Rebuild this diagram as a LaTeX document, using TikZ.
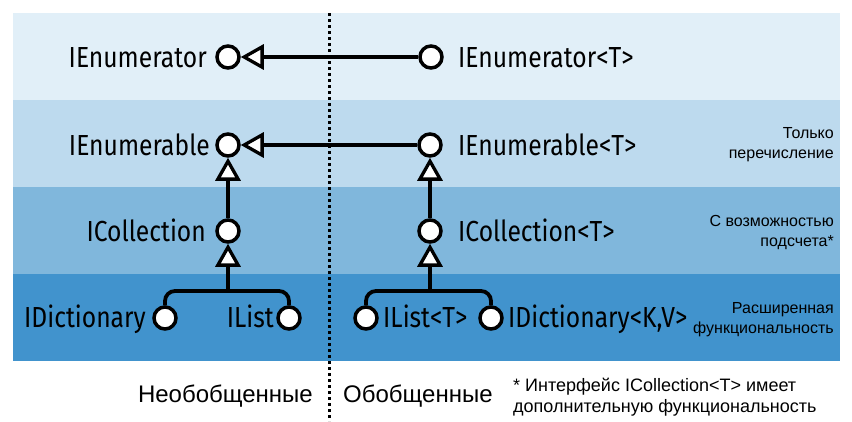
\documentclass[tikz,border=0pt]{standalone}
\usepackage{fontspec}
\setmainfont{Liberation Sans}
\newfontfamily\codefont[FakeStretch=0.85]{Fira Sans}
\usetikzlibrary{arrows.meta}
\definecolor{bandA}{HTML}{E1EFF8}
\definecolor{bandB}{HTML}{BDDAEE}
\definecolor{bandC}{HTML}{80B7DC}
\definecolor{bandD}{HTML}{4193CD}
\tikzset{
  port/.style={circle,draw=black,fill=white,line width=3.5pt,minimum size=22pt,inner sep=0pt},
  code/.style={font=\codefont\fontsize{29}{32}\selectfont,inner sep=0pt},
  note/.style={font=\fontsize{16}{20}\selectfont,inner sep=0pt,align=right,anchor=east},
  caption/.style={font=\fontsize{24}{28}\selectfont,inner sep=0pt},
  conn/.style={line width=3.8pt,draw=black},
  inh/.style={conn,-{Triangle[length=23pt,width=25pt,fill=white,line width=3.3pt]}},
}
\begin{document}
\begin{tikzpicture}[x=1pt,y=-1pt]
\useasboundingbox (0,0) rectangle (852,421);
% bands
\fill[bandA] (13,13) rectangle (840,100);
\fill[bandB] (13,100) rectangle (840,187);
\fill[bandC] (13,187) rectangle (840,274);
\fill[bandD] (13,274) rectangle (840,361);
% divider
\draw[line width=3pt,dash pattern=on 3pt off 3pt] (329,13) -- (329,421);
% ports
\node[port] (enL) at (228,57) {};
\node[port] (enR) at (431,57) {};
\node[port] (ebL) at (228,145) {};
\node[port] (ebR) at (430,145) {};
\node[port] (coL) at (228,231) {};
\node[port] (coR) at (430,231) {};
\node[port] (diL) at (165,318) {};
\node[port] (liL) at (289,318) {};
\node[port] (liR) at (366,318) {};
\node[port] (diR) at (491,318) {};
\coordinate (brL) at (228,291);
\coordinate (brR) at (430,291);
% labels
\node[code,anchor=base east] (tEnL) at (207,67) {IEnumerator};
\node[code,anchor=base west] (tEnR) at (458,67) {IEnumerator<T>};
\node[code,anchor=base east] (tEbL) at (210,155) {IEnumerable};
\node[code,anchor=base west] (tEbR) at (458,155) {IEnumerable<T>};
\node[code,anchor=base east] (tCoL) at (206,241) {ICollection};
\node[code,anchor=base west] (tCoR) at (458,241) {ICollection<T>};
\node[code,anchor=base east] (tDiL) at (146,327) {IDictionary};
\node[code,anchor=base east] (tLiL) at (274,327) {IList};
\node[code,anchor=base west] (tLiR) at (383,327) {IList<T>};
\node[code,anchor=base west] (tDiR) at (508,327) {IDictionary<K,V>};
% notes
\node[note] (n1) at (834,145) {Только\\перечисление};
\node[note] (n2) at (834,233) {С возможностью\\подсчета*};
\node[note] (n3) at (834,320) {Расширенная\\функциональность};
\node[caption,anchor=base east] (c1) at (313,402) {Необобщенные};
\node[caption,anchor=base west] (c2) at (343,402) {Обобщенные};
\node[font=\fontsize{18}{21}\selectfont,inner sep=0pt,align=left,anchor=west] (fn) at (513,397) {* Интерфейс ICollection<T> имеет\\дополнительную функциональность};
% connectors
\draw[inh] (enR) -- (enL);
\draw[inh] (ebR) -- (ebL);
\draw[inh] (coL) -- (ebL);
\draw[inh] (coR) -- (ebR);
\draw[inh] (brL) -- (coL);
\draw[inh] (brR) -- (coR);
\draw[conn,rounded corners=10pt] (diL) -- (diL |- brL) -- (liL |- brL) -- (liL);
\draw[conn,rounded corners=10pt] (liR) -- (liR |- brR) -- (diR |- brR) -- (diR);
\end{tikzpicture}
\end{document}
